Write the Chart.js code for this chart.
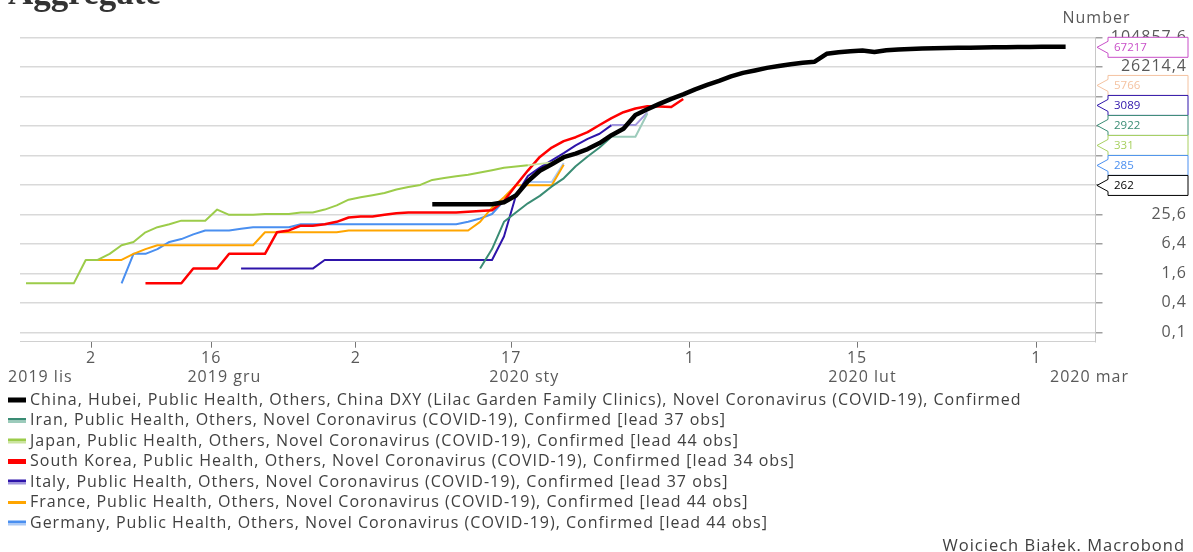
<!DOCTYPE html>
<html>
<head>
<meta charset="utf-8">
<script src="https://cdn.jsdelivr.net/npm/chart.js@4.4.1/dist/chart.umd.min.js"></script>
<style>
body { margin: 0; background: #fff; }
canvas { display: block; }
</style>
</head>
<body>
<canvas id="myChart" width="1193" height="552"></canvas>
<script>
// x runs over observation number (one step per obs), 0 = first obs on the chart
var xTickPos = [5.45, 15.5, 27.6, 40.6, 55.55, 69.55, 84.55];
var xTickLabels = ["2", "16", "2", "17", "1", "15", "1"];
var monthPos = [1.2, 16.6, 41.7, 70.0, 89.0];
var monthLabels = ["2019 lis", "2019 gru", "2020 sty", "2020 lut", "2020 mar"];
var yTicks = [0.1, 0.4, 1.6, 6.4, 25.6, 102.4, 409.6, 1638.4, 6553.6, 26214.4, 104857.6];

var names = [
    "China, Hubei, Public Health, Others, China DXY (Lilac Garden Family Clinics), Novel Coronavirus (COVID-19), Confirmed",
    "Iran, Public Health, Others, Novel Coronavirus (COVID-19), Confirmed [lead 37 obs]",
    "Japan, Public Health, Others, Novel Coronavirus (COVID-19), Confirmed [lead 44 obs]",
    "South Korea, Public Health, Others, Novel Coronavirus (COVID-19), Confirmed [lead 34 obs]",
    "Italy, Public Health, Others, Novel Coronavirus (COVID-19), Confirmed [lead 37 obs]",
    "France, Public Health, Others, Novel Coronavirus (COVID-19), Confirmed [lead 44 obs]",
    "Germany, Public Health, Others, Novel Coronavirus (COVID-19), Confirmed [lead 44 obs]"
];

// first obs of each series
var starts = [34, 38, 0, 10, 18, 6, 8];
// obs from which the line is drawn in the lighter shade (carried values)
var lightFrom = [null, 49, 42, null, 49, null, 42];

var china = [41, 41, 41, 41, 41, 41, 45, 62, 121, 198, 270, 375, 444, 549, 729, 1052, 1423, 2714, 3554, 4586,
    5806, 7153, 9074, 11177, 13522, 16678, 19665, 22112, 24953, 27100, 29631, 31728, 33366, 48206, 51986, 54406,
    56249, 52500, 57000, 59000, 60500, 62000, 62700, 63500, 64100, 64500, 65000, 65400, 65800, 66200, 66600,
    66900, 67100, 67217];
var iran = [2, 5, 18, 28, 43, 61, 95, 139, 245, 388, 593, 978, 978, 978, 2922];
var japan = [1, 1, 1, 1, 1, 3, 3, 4, 6, 7, 11, 14, 16, 19, 19, 19, 32, 25, 25, 25, 26, 26, 26, 28, 28, 32, 39,
    51, 57, 63, 70, 82, 92, 102, 129, 141, 153, 164, 182, 203, 228, 241, 256, 274, 293, 331];
var korea = [1, 1, 1, 1, 2, 2, 2, 4, 4, 4, 4, 11, 12, 15, 15, 16, 18, 22, 23, 23, 25, 27, 28, 28, 28, 28, 28,
    29, 30, 31, 48, 100, 200, 380, 590, 800, 960, 1220, 1700, 2350, 3100, 3700, 4100, 4050, 3950, 5766];
var italy = [2, 2, 2, 2, 2, 2, 2, 3, 3, 3, 3, 3, 3, 3, 3, 3, 3, 3, 3, 3, 3, 3, 9, 62, 155, 229, 322, 453, 655,
    888, 1128, 1694, 1694, 1694, 3089];
var france = [3, 3, 3, 4, 5, 6, 6, 6, 6, 6, 6, 6, 6, 6, 11, 11, 11, 11, 11, 11, 11, 12, 12, 12, 12, 12, 12, 12,
    12, 12, 12, 12, 18, 35, 57, 100, 100, 100, 100, 262];
var germany = [1, 4, 4, 5, 7, 8, 10, 12, 12, 12, 13, 14, 14, 14, 14, 16, 16, 16, 16, 16, 16, 16, 16, 16, 16, 16,
    16, 16, 16, 18, 21, 26, 48, 66, 117, 117, 117, 285];

var allValues = [china, iran, japan, korea, italy, france, germany];

var colors = ['#000000', '#3a8c74', '#9ccc4a', '#ff0000', '#2e14aa', '#ffa500', '#4a8ff0'];
var lightColors = [null, '#9ccbbb', '#cbe49f', null, '#a096dc', null, '#abc9f5'];
var widths = [4.5, 2, 2, 2.5, 2, 2, 2];
var tagColors = ['#c84fc8', '#3a8c74', '#a8d060', '#f4c2a0', '#2e14aa', '#000000', '#4a8ff0'];

Chart.defaults.font.family = "'Open Sans', sans-serif";

var datasets = [];
for (var s = 0; s < names.length; s++) {
    var pts = [];
    for (var k = 0; k < allValues[s].length; k++) {
        pts.push({x: starts[s] + k, y: allValues[s][k]});
    }
    (function(s) {
        datasets.push({
            label: names[s],
            data: pts,
            borderColor: colors[s],
            borderWidth: widths[s],
            pointRadius: 0,
            borderJoinStyle: 'round',
            tension: 0,
            segment: {
                borderColor: function(c) {
                    if (lightFrom[s] !== null && starts[s] + c.p0DataIndex >= lightFrom[s]) return lightColors[s];
                    return colors[s];
                }
            }
        });
    })(s);
}

function fmt(v) {
    return String(v).replace('.', ',');
}

var extras = {
    id: 'extras',
    beforeDraw: function(chart) {
        chart.ctx.letterSpacing = '1px';
    },
    afterDraw: function(chart) {
        var ctx = chart.ctx;
        var area = chart.chartArea;
        var xs = chart.scales.x;
        var ys = chart.scales.y;
        ctx.save();
        ctx.letterSpacing = '1px';
        ctx.fillStyle = '#595959';
        ctx.font = "16px 'Open Sans'";
        ctx.textBaseline = 'middle';
        ctx.textAlign = 'center';
        for (var i = 0; i < monthLabels.length; i++) {
            ctx.fillText(monthLabels[i], xs.getPixelForValue(monthPos[i]), 377);
        }
        ctx.fillText('Number', area.right + 1, 18);

        // legend
        ctx.textAlign = 'left';
        ctx.font = "16px 'Open Sans'";
        for (var d = 0; d < names.length; d++) {
            var cy = 400 + d * 20.5;
            if (lightColors[d]) {
                ctx.fillStyle = colors[d];
                ctx.fillRect(8, cy - 2.5, 18, 2.5);
                ctx.fillStyle = lightColors[d];
                ctx.fillRect(8, cy, 18, 2.5);
            } else if (widths[d] > 2) {
                ctx.fillStyle = colors[d];
                ctx.fillRect(8, cy - 2.5, 18, 5);
            } else {
                ctx.fillStyle = colors[d];
                ctx.fillRect(8, cy - 1.5, 18, 3);
            }
            ctx.fillStyle = '#404040';
            ctx.fillText(names[d], 30, cy);
        }

        ctx.textAlign = 'right';
        ctx.fillStyle = '#404040';
        ctx.font = "16.5px 'Open Sans'";
        ctx.fillText('Woiciech Białek. Macrobond', 1185, 546);

        ctx.letterSpacing = '0px';
        ctx.textAlign = 'left';
        ctx.textBaseline = 'alphabetic';
        ctx.fillStyle = '#333333';
        ctx.font = "bold 35px 'Liberation Serif'";
        ctx.fillText('Aggregate', 8, 4);

        // value tags on the right, stacked in groups so they don't overlap
        var h = 20;
        var items = [];
        for (var t = 0; t < allValues.length; t++) {
            var last = allValues[t][allValues[t].length - 1];
            items.push({v: last, c: tagColors[t], want: ys.getPixelForValue(last)});
        }
        items.sort(function(a, b) { return a.want - b.want; });
        var groups = items.map(function(it) { return {list: [it], top: it.want - h / 2}; });
        var merged = true;
        while (merged) {
            merged = false;
            for (var g = 0; g < groups.length; g++) {
                var gr = groups[g];
                var sum = 0;
                gr.list.forEach(function(it) { sum += it.want; });
                gr.top = Math.max(area.top, sum / gr.list.length - gr.list.length * h / 2);
            }
            for (var g2 = 1; g2 < groups.length; g2++) {
                var a = groups[g2 - 1], b = groups[g2];
                if (a.top + a.list.length * h > b.top) {
                    a.list = a.list.concat(b.list);
                    groups.splice(g2, 1);
                    merged = true;
                    break;
                }
            }
        }
        var tipX = area.right + 1.5;
        var bodyX = area.right + 12.5;
        var bodyW = 80;
        ctx.font = "11.5px 'Open Sans'";
        ctx.textBaseline = 'middle';
        groups.forEach(function(gr) {
            gr.list.forEach(function(it, n) {
                var top = gr.top + n * h;
                var mid = top + h / 2;
                ctx.beginPath();
                ctx.moveTo(tipX, mid);
                ctx.lineTo(bodyX, mid - 6);
                ctx.lineTo(bodyX, top);
                ctx.lineTo(bodyX + bodyW, top);
                ctx.lineTo(bodyX + bodyW, top + h);
                ctx.lineTo(bodyX, top + h);
                ctx.lineTo(bodyX, mid + 6);
                ctx.closePath();
                ctx.fillStyle = '#ffffff';
                ctx.fill();
                ctx.strokeStyle = it.c;
                ctx.lineWidth = 1;
                ctx.stroke();
                ctx.fillStyle = it.c;
                ctx.fillText(String(it.v), bodyX + 6, mid + 0.5);
            });
        });
        ctx.restore();
    }
};

var ctx = document.getElementById('myChart').getContext('2d');
var chart = new Chart(ctx, {
    type: 'line',
    data: { datasets: datasets },
    options: {
        responsive: false,
        animation: false,
        layout: { padding: { left: 20, top: 37.3, right: 6, bottom: 0 } },
        plugins: { legend: { display: false }, tooltip: { enabled: false } },
        scales: {
            x: {
                type: 'linear',
                min: -0.5,
                max: 89.5,
                afterBuildTicks: function(axis) {
                    axis.ticks = xTickPos.map(function(v) { return {value: v}; });
                },
                afterFit: function(axis) { axis.height = 210.3; },
                ticks: {
                    callback: function(v, i) { return xTickLabels[i]; },
                    autoSkip: false,
                    maxRotation: 0,
                    color: '#595959',
                    font: { size: 16 },
                    padding: 1
                },
                grid: { drawOnChartArea: false, tickLength: 6, tickColor: '#777777', lineWidth: 1 },
                border: { color: '#d0d0d0', width: 1 }
            },
            y: {
                type: 'logarithmic',
                position: 'right',
                min: 0.0644,
                max: 104857.6,
                afterBuildTicks: function(axis) {
                    axis.ticks = yTicks.map(function(v) { return {value: v}; });
                },
                afterFit: function(axis) { axis.width = 91.5; },
                ticks: {
                    callback: function(v) { return fmt(v); },
                    color: '#595959',
                    font: { size: 16 },
                    crossAlign: 'far',
                    padding: 4
                },
                grid: { color: '#d9d9d9', lineWidth: 1.5, tickLength: 7, tickColor: '#a0a0a0' },
                border: { display: true, color: '#c8c8c8', width: 1 }
            }
        }
    },
    plugins: [extras]
});
</script>
</body>
</html>
